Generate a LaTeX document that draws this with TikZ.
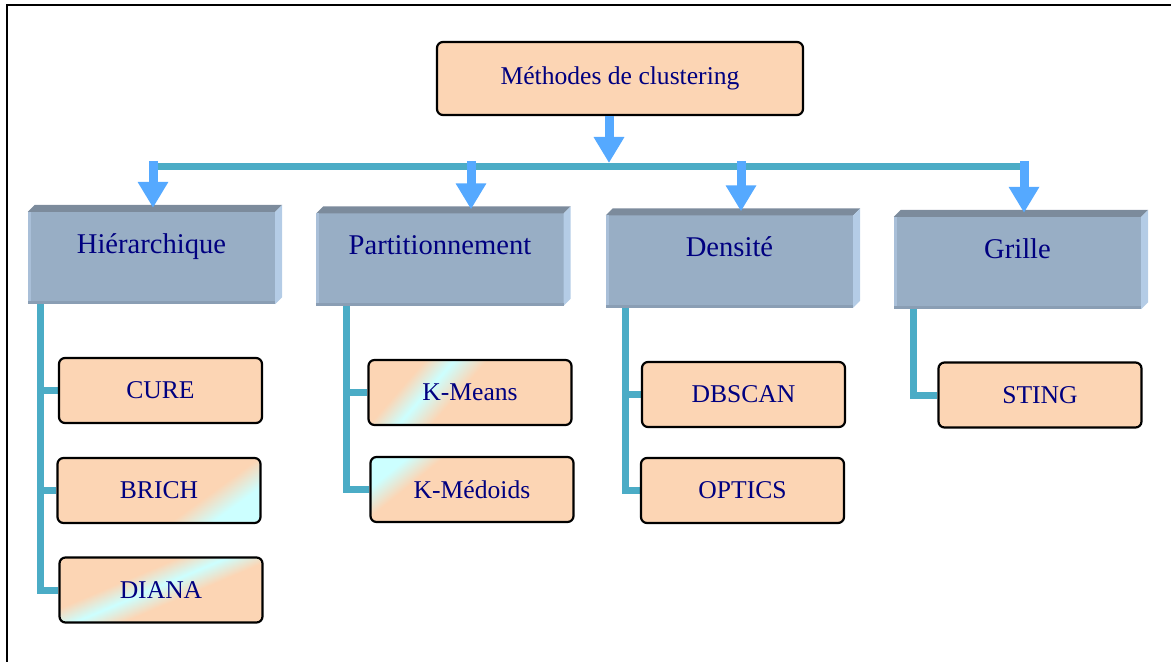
\documentclass[tikz,border=0pt]{standalone}
\usepackage{fontspec}
\setmainfont{Liberation Serif}
\usetikzlibrary{arrows.meta, calc, backgrounds}

\definecolor{peach}{HTML}{FCD5B4}
\definecolor{paleaqua}{HTML}{CCFFFF}
\definecolor{inkblue}{HTML}{000080}
\definecolor{slateface}{HTML}{98AEC5}
\definecolor{slatetop}{HTML}{7C8B9C}
\definecolor{slateside}{HTML}{B4CCE6}
\definecolor{slatebot}{HTML}{8A9EB4}
\definecolor{slateleft}{HTML}{A9BFD8}
\definecolor{branchteal}{HTML}{4BACC6}
\definecolor{arrowblue}{HTML}{55A9FF}

\pgfdeclarehorizontalshading{brichfade}{100bp}{color(0bp)=(peach); color(63bp)=(peach); color(73bp)=(paleaqua); color(100bp)=(paleaqua)}
\pgfdeclarehorizontalshading{dianafade}{100bp}{color(0bp)=(peach); color(39bp)=(peach); color(48bp)=(paleaqua); color(57bp)=(peach); color(100bp)=(peach)}
\pgfdeclarehorizontalshading{kmeansfade}{100bp}{color(0bp)=(peach); color(30bp)=(peach); color(38bp)=(paleaqua); color(47bp)=(peach); color(100bp)=(peach)}
\pgfdeclarehorizontalshading{kmedoidsfade}{100bp}{color(0bp)=(paleaqua); color(24bp)=(paleaqua); color(33bp)=(peach); color(100bp)=(peach)}

\tikzset{
  headbox/.style={rectangle, rounded corners=6bp, draw=black, line width=2.2bp, fill=peach,
    minimum width=366bp, minimum height=73bp, text=inkblue, font=\fontsize{25.6bp}{30bp}\selectfont},
  family/.style={rectangle, fill=slateface, minimum width=247bp, minimum height=92bp, inner sep=0pt,
    text=inkblue, font=\fontsize{28.6bp}{34bp}\selectfont, text height=20bp, text depth=30bp},
  leaf/.style={rectangle, rounded corners=6bp, draw=black, line width=2.2bp, fill=peach,
    minimum width=203bp, minimum height=65bp, text=inkblue, font=\fontsize{25.6bp}{30bp}\selectfont},
  branch/.style={draw=branchteal, line width=7bp},
  blockarrow/.style={draw=arrowblue, line width=9bp, -{Triangle[length=26bp, width=29bp]}, arrowblue}
}

\begin{document}
\begin{tikzpicture}[x=1bp, y=-1bp]
\useasboundingbox (0,0) rectangle (1171,662);

%% frame
\draw[line width=2bp] (7,680) -- (7,5) -- (1190,5);

%% root
\node[headbox] (meth) at (620,78.5) {Méthodes de clustering};

%% families
\node[family] (hier) at (151.5,258) {Hiérarchique};
\node[family] (part) at (440,259.5) {Partitionnement};
\node[family] (dens) at (729.5,261.5) {Densité};
\node[family] (grid) at (1017.5,263) {Grille};

\foreach \c in {hier,part,dens,grid} {
  \fill[slatetop] (\c.north west) -- ++(7,-7) -- ([shift={(7,-7)}]\c.north east) -- (\c.north east) -- cycle;
  \fill[slateside] (\c.north east) -- ++(7,-7) -- ([shift={(7,-7)}]\c.south east) -- (\c.south east) -- cycle;
  \fill[slateleft] (\c.south west) rectangle ([xshift=3bp]\c.north west);
  \fill[slatebot] (\c.south west) rectangle ([yshift=3bp]\c.south east);
}

%% bus
\coordinate (busL) at (152,166.5);
\coordinate (busR) at (1024,166.5);
\coordinate (busM) at (609,163);
\coordinate (busTop) at (0,161);
\draw[branch] (busL) -- (busR);
\draw[blockarrow] (meth.south -| busM) -- (busM);
\foreach \c/\dx in {hier/1.5, part/31, dens/11.5, grid/6.5}
  \draw[blockarrow] ([xshift=\dx bp]\c.north |- busTop) -- ([xshift=\dx bp, yshift=4bp]\c.north);

%% methods
\node[leaf] (cure) at (160.5,390.5) {CURE};
\node[leaf, shade, shading=brichfade, shading angle=-54] (brich) at (159,490.5) {BRICH};
\node[leaf, shade, shading=dianafade, shading angle=-67] (diana) at (161,590) {DIANA};
\node[leaf, shade, shading=kmeansfade, shading angle=-41] (kmeans) at (470,392.5) {K-Means};
\node[leaf, shade, shading=kmedoidsfade, shading angle=-51] (kmedoids) at (472,489.5) {K-Médoids};
\node[leaf] (dbscan) at (743.5,394.5) {DBSCAN};
\node[leaf] (optics) at (742.5,490.5) {OPTICS};
\node[leaf] (sting) at (1040,395) {STING};

%% branches
\coordinate (hspine) at ([xshift=13bp]hier.south west);
\coordinate (pspine) at ([xshift=30bp]part.south west);
\coordinate (dspine) at ([xshift=20bp]dens.south west);
\coordinate (gspine) at ([xshift=20bp]grid.south west);
\begin{scope}[on background layer]
\draw[branch] (hspine) |- (diana.west);
\draw[branch] (hspine |- cure.west) -- (cure.west);
\draw[branch] (hspine |- brich.west) -- (brich.west);
\draw[branch] (pspine) |- (kmedoids.west);
\draw[branch] (pspine |- kmeans.west) -- (kmeans.west);
\draw[branch] (dspine) |- (optics.west);
\draw[branch] (dspine |- dbscan.west) -- (dbscan.west);
\draw[branch] (gspine) |- (sting.west);
\end{scope}

\end{tikzpicture}
\end{document}
